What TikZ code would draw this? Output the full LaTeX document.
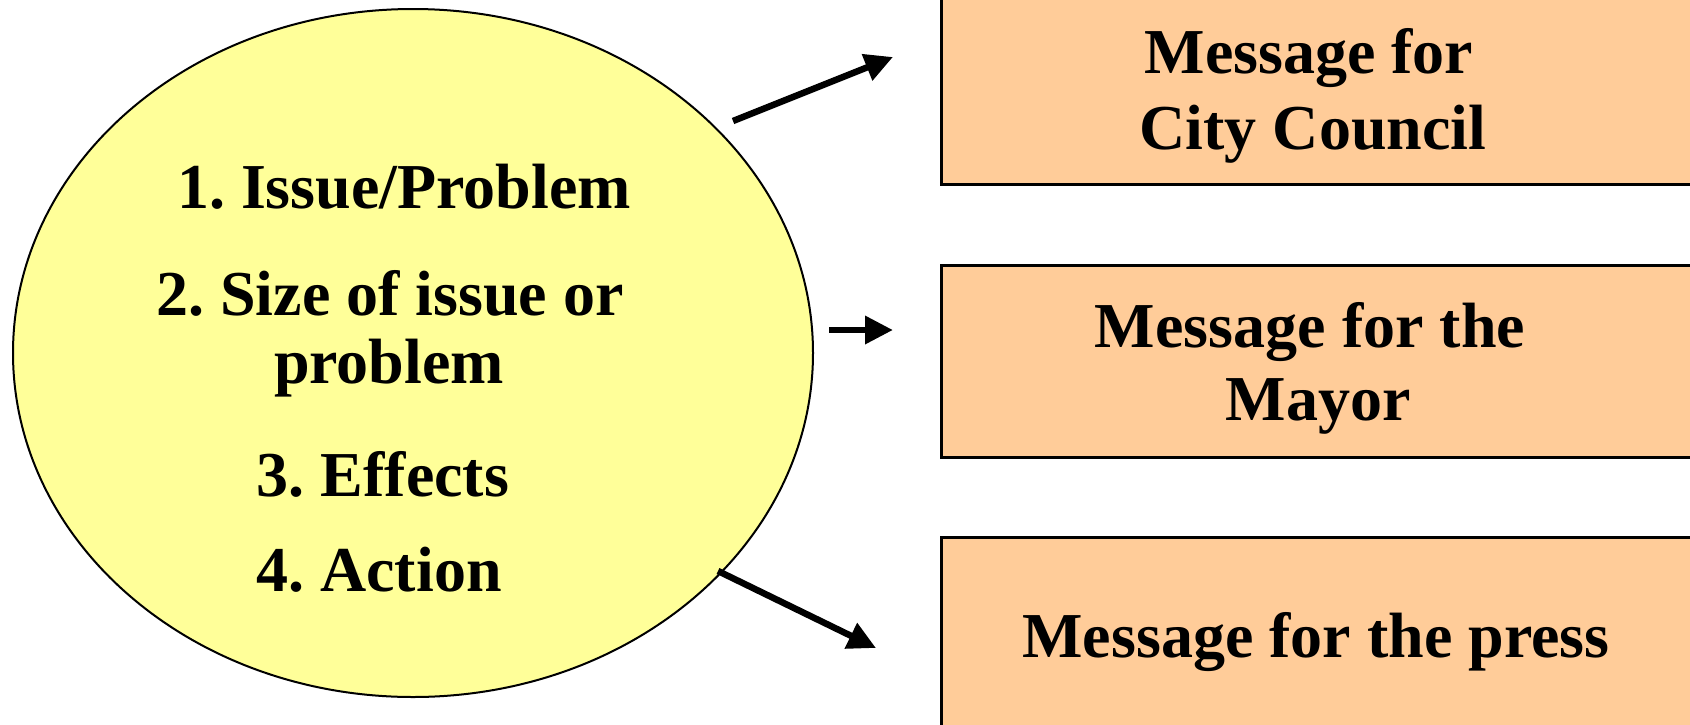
\documentclass[tikz,border=0pt]{standalone}
\usepackage{fontspec}
\setmainfont{Liberation Serif}
\usetikzlibrary{shapes.geometric,arrows.meta}
\definecolor{ellfill}{HTML}{FFFF99}
\definecolor{boxfill}{HTML}{FFCC99}
\frenchspacing
\begin{document}
\begin{tikzpicture}[x=1pt,y=-1pt,
  txt/.style={anchor=base,inner sep=0pt,font=\fontsize{64}{76}\selectfont\bfseries},
  msgbox/.style={draw=black,line width=3pt,fill=boxfill,minimum width=759pt,inner sep=0pt},
  conn/.style={line width=6.5pt,-{Triangle[length=28pt,width=27pt]}}]
\useasboundingbox (0,0) rectangle (1690,724);
\fill[white] (0,0) rectangle (1690,724);
\node[ellipse,draw=black,line width=2pt,fill=ellfill,minimum width=800pt,minimum height=688pt,inner sep=0pt] (ell) at (413,353) {};
\node[msgbox,minimum height=194pt] (b1) at (1320.5,87) {};
\node[msgbox,minimum height=192pt] (b2) at (1320.5,361) {};
\node[msgbox,minimum height=203pt] (b3) at (1320.5,638.5) {};
% ellipse texts
\node[txt] (t1) at (404,208) {1. Issue/Problem};
\node[txt] (t2) at (390,315) {2. Size of issue or};
\node[txt] (t3) at (389,383) {problem};
\node[txt] (t4) at (383,496) {3. Effects};
\node[txt] (t5) at (379,591) {4. Action};
% box texts
\node[txt] (m1a) at (1309,73) {Message for};
\node[txt] (m1b) at (1313,149) {City Council};
\node[txt] (m2a) at (1310,347) {Message for the};
\node[txt] (m2b) at (1318,420) {Mayor};
\node[txt] (m3) at (1316,657) {Message for the press};
% connectors
\coordinate (s1) at (733,121);
\coordinate (e1) at (893,57);
\coordinate (s2) at (829,330);
\coordinate (e2) at (893,330);
\coordinate (s3) at (718,571);
\coordinate (e3) at (876,648);
\draw[conn] (s1) -- (e1);
\draw[conn] (s2) -- (e2);
\draw[conn] (s3) -- (e3);
\end{tikzpicture}
\end{document}
